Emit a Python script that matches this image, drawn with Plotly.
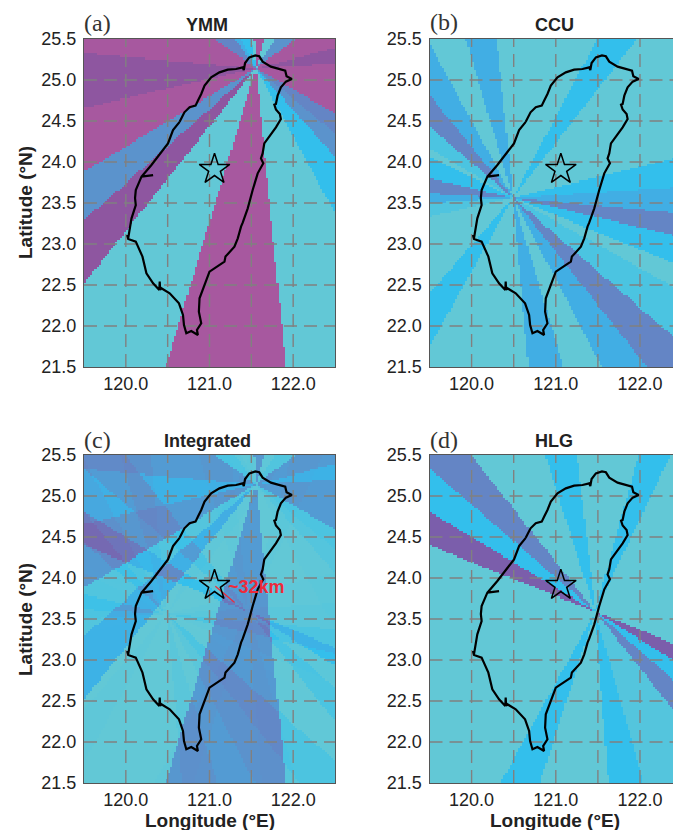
import numpy as np
import plotly.graph_objects as go

W, H = 673, 830

# Map extents and ticks
LON_TICKS = [120.0, 121.0, 122.0]
LON_TICK_TEXT = ["120.0", "121.0", "122.0"]
LAT_TICKS = [21.5, 22.0, 22.5, 23.0, 23.5, 24.0, 24.5, 25.0, 25.5]
LAT_TICK_TEXT = ["21.5", "22.0", "22.5", "23.0", "23.5", "24.0", "24.5", "25.0", "25.5"]
GRID_LON = [120.0, 120.5, 121.0, 121.5, 122.0]
GRID_LAT = [22.0, 22.5, 23.0, 23.5, 24.0, 24.5, 25.0]

# Taiwan coastline
COAST_LON = [120.643, 120.70, 120.762, 120.833, 120.861, 120.901, 120.941, 121.02, 121.119, 121.218,
             121.317, 121.397, 121.41, 121.425, 121.476, 121.548, 121.595, 121.635, 121.734, 121.833,
             121.905, 121.921, 121.984, 121.913, 121.853, 121.814, 121.794, 121.775, 121.794, 121.841,
             121.853, 121.794, 121.734, 121.655, 121.635, 121.615, 121.643, 121.576, 121.516, 121.457,
             121.397, 121.377, 121.338, 121.298, 121.191, 121.179, 121.0, 120.941, 120.881, 120.873,
             120.901, 120.85, 120.861, 120.782, 120.723, 120.695, 120.683, 120.635, 120.524, 120.425,
             120.41, 120.405, 120.40, 120.326, 120.246, 120.199, 120.119, 120.028, 120.016, 120.028,
             120.068, 120.119, 120.11, 120.119, 120.187, 120.326, 120.187, 120.306, 120.425, 120.504,
             120.564, 120.643]
COAST_LAT = [24.49, 24.606, 24.667, 24.687, 24.748, 24.829, 24.931, 25.033, 25.093, 25.126,
             25.134, 25.154, 25.12, 25.207, 25.276, 25.30, 25.289, 25.224, 25.163, 25.134,
             25.114, 25.045, 25.012, 24.98, 24.911, 24.809, 24.707, 24.70, 24.64, 24.585,
             24.524, 24.423, 24.341, 24.227, 24.105, 24.044, 23.984, 23.862, 23.658, 23.435,
             23.26, 23.211, 23.069, 22.968, 22.846, 22.785, 22.663, 22.5, 22.338, 22.175,
             22.033, 21.951, 21.89, 21.939, 21.911, 22.012, 22.134, 22.277, 22.399, 22.46,
             22.44, 22.541, 22.44, 22.52, 22.642, 22.846, 23.029, 23.061, 23.11, 23.069,
             23.313, 23.475, 23.56, 23.658, 23.821, 23.841, 23.821, 23.963, 24.126, 24.227,
             24.39, 24.49]

STAR_LON = [121.06]
STAR_LAT = [23.91]
ARROW_LON = [121.07, 121.30]
ARROW_LAT = [23.90, 23.70]
ARROW_LABEL = "~32km"

# Bands: apex, boundary rays (clockwise), and level of the band after each ray
YMM_APEX = (121.555, 25.145)
YMM_RAY_LON = [119.5, 119.5, 119.5, 119.5, 119.5, 121.06, 121.30, 121.38, 121.50, 121.536, 121.655,
               121.794, 122.03, 122.5, 122.5, 122.5, 122.5, 122.5, 122.5, 121.913, 120.476]
YMM_RAY_LAT = [22.52, 23.29, 23.88, 24.66, 25.326, 25.5, 25.5, 25.5, 25.5, 25.5, 25.5,
               25.5, 25.5, 25.386, 25.204, 24.594, 24.35, 24.065, 23.374, 21.5, 21.5]
YMM_LEVEL = [4.3, 2.0, 5.0, 4.3, 5.0, 2.5, 1.5, 1.0, 0.0, 5.0, 0.0,
             2.0, 5.0, 4.3, 5.0, 2.5, 2.0, 1.0, 0.0, 5.0, 0.0]

CCU_APEX = (120.49, 23.565)
CCU_RAY_LON = [120.673, 119.5, 119.5, 119.5, 119.5, 119.5, 119.5, 119.5, 119.5, 119.5, 119.5, 119.5,
               119.93, 120.298, 121.486, 121.96, 122.39, 122.39, 122.39, 122.39, 122.39, 122.39, 122.39,
               122.08, 121.545, 121.09]
CCU_RAY_LAT = [21.5, 21.75, 22.40, 23.33, 23.50, 23.62, 23.80, 24.065, 24.167, 24.43, 24.817, 25.448,
               25.5, 25.5, 25.5, 25.5, 24.04, 23.69, 23.38, 23.11, 22.765, 22.48, 21.87,
               21.5, 21.5, 21.5]
CCU_LEVEL = [0.0, 1.0, 0.0, 0.4, 1.5, 2.5, 1.0, 0.0, 0.5, 2.5, 1.5, 0.0,
             1.5, 0.0, 1.0, 0.0, 1.0, 1.5, 2.5, 1.0, 0.0, 0.5, 2.5,
             1.5, 0.0, 1.5]

HLG_APEX = (121.466, 23.59)
HLG_RAY_LON = [119.5, 119.5, 119.5, 119.99, 120.87, 121.25, 121.98, 122.36,
               122.39, 122.39, 122.39, 122.39, 122.04, 121.62, 120.81, 120.34]
HLG_RAY_LAT = [24.40, 24.81, 25.34, 25.5, 25.5, 25.5, 25.5, 25.5,
               23.2, 23.0, 22.76, 22.39, 21.5, 21.5, 21.5, 21.5]
HLG_LEVEL = [3.5, 1.0, 2.5, 0.0, 1.0, 0.0, 1.0, 0.0,
             3.5, 1.0, 2.5, 0.3, 1.0, 0.0, 1.0, 0.0]

COLORSCALE = [[0.0, "#62C8D6"], [0.2, "#33BFEC"], [0.3, "#41AEE4"], [0.4, "#5B93CC"],
              [0.5, "#6485C5"], [0.7, "#7B5EAB"], [0.86, "#8E56A0"], [1.0, "#A7589F"]]

# Raster grid of the model output
grid_lon = np.arange(119.5125, 122.5, 0.025)
grid_lat = np.arange(21.5125, 25.5, 0.025)
LON, LAT = np.meshgrid(grid_lon, grid_lat)


def band_field(apex, ray_lon, ray_lat, level):
    theta = np.degrees(np.arctan2(np.array(ray_lat) - apex[1], np.array(ray_lon) - apex[0]))
    t = np.degrees(np.arctan2(LAT - apex[1], LON - apex[0]))
    d = (theta[:, None, None] - t) % 360
    return np.array(level)[np.argmin(d, axis=0)]


z_ymm = band_field(YMM_APEX, YMM_RAY_LON, YMM_RAY_LAT, YMM_LEVEL)
z_ccu = band_field(CCU_APEX, CCU_RAY_LON, CCU_RAY_LAT, CCU_LEVEL)
z_hlg = band_field(HLG_APEX, HLG_RAY_LON, HLG_RAY_LAT, HLG_LEVEL)
# The integrated panel combines the three stations; strong bands dominate it
z_int = np.clip((z_ymm ** 2 + z_ccu ** 2 + z_hlg ** 2) / 5 / 2.7, 0, 5)

LEFT = (84 / W, 335 / W)
RIGHT = (429.5 / W, 1.0)
TOP = (1 - 367 / H, 1 - 39 / H)
BOT = (1 - 783 / H, 1 - 455 / H)
RANGE_L = [119.5, 122.5]
RANGE_R = [119.5, 122.392]

panels = [
    ("", z_ymm, LEFT, TOP, RANGE_L, True),
    ("2", z_ccu, RIGHT, TOP, RANGE_R, False),
    ("3", z_int, LEFT, BOT, RANGE_L, True),
    ("4", z_hlg, RIGHT, BOT, RANGE_R, False),
]

fig = go.Figure()
layout = {}
FONT = "Liberation Sans"
for suf, z, dx, dy, rng, closed in panels:
    xa, ya = "x" + suf, "y" + suf
    fig.add_trace(go.Heatmap(x=grid_lon, y=grid_lat, z=np.round(z, 2), colorscale=COLORSCALE,
                             zmin=0, zmax=5, showscale=False, hoverinfo="skip", xaxis=xa, yaxis=ya))
    for g in GRID_LON:
        fig.add_trace(go.Scatter(x=[g, g], y=[21.5, 25.5], mode="lines", xaxis=xa, yaxis=ya,
                                 line=dict(color="#808080", width=1.4, dash="13px,7px"),
                                 hoverinfo="skip", showlegend=False))
    for g in GRID_LAT:
        fig.add_trace(go.Scatter(x=[119.5, 122.5], y=[g, g], mode="lines", xaxis=xa, yaxis=ya,
                                 line=dict(color="#808080", width=1.4, dash="13px,7px"),
                                 hoverinfo="skip", showlegend=False))
    fig.add_trace(go.Scatter(x=COAST_LON, y=COAST_LAT, mode="lines", xaxis=xa, yaxis=ya,
                             line=dict(color="#000000", width=2.2), hoverinfo="skip", showlegend=False))
    if suf == "3":
        fig.add_trace(go.Scatter(x=ARROW_LON, y=ARROW_LAT, mode="lines", xaxis=xa, yaxis=ya,
                                 line=dict(color="#EE2A3A", width=1.3), hoverinfo="skip", showlegend=False))
    fig.add_trace(go.Scatter(x=STAR_LON, y=STAR_LAT, mode="markers", xaxis=xa, yaxis=ya,
                             marker=dict(symbol="star-open", size=23, color="#000000",
                                         line=dict(color="#000000", width=1.5)),
                             hoverinfo="skip", showlegend=False))
    common = dict(showgrid=False, zeroline=False, showline=True, linecolor="#555555", linewidth=1,
                  ticks="outside", tickcolor="rgba(0,0,0,0)",
                  tickfont=dict(family=FONT, size=18, color="#222222"))
    layout["xaxis" + suf] = dict(domain=list(dx), range=rng, anchor=ya, tickvals=LON_TICKS, ticklen=0,
                                 ticktext=LON_TICK_TEXT, mirror=True, **common)
    layout["yaxis" + suf] = dict(domain=list(dy), range=[21.5, 25.5], anchor=xa, tickvals=LAT_TICKS, ticklen=3,
                                 ticktext=LAT_TICK_TEXT, mirror=closed, **common)


def note(text, px, py, size, family=FONT, bold=False, color="#222222", xanchor="center", angle=0):
    return dict(text=f"<b>{text}</b>" if bold else text, xref="paper", yref="paper", x=px / W, y=1 - py / H,
                showarrow=False, xanchor=xanchor, yanchor="middle", textangle=angle,
                font=dict(family=family, size=size, color=color))


SERIF = "Liberation Serif"
annotations = [
    note("YMM", 207, 25, 18, bold=True),
    note("CCU", 554, 25, 18, bold=True),
    note("Integrated", 207, 441, 18, bold=True),
    note("HLG", 554, 441, 18, bold=True),
    note("(a)", 82, 23, 24, family=SERIF, xanchor="left", color="#333333"),
    note("(b)", 428, 22, 24, family=SERIF, xanchor="left", color="#333333"),
    note("(c)", 82, 440, 24, family=SERIF, xanchor="left", color="#333333"),
    note("(d)", 428, 440, 24, family=SERIF, xanchor="left", color="#333333"),
    note("Latitude (°N)", 25, 203, 19, bold=True, angle=-90),
    note("Latitude (°N)", 25, 620, 19, bold=True, angle=-90),
    note("Longitude (°E)", 210, 820, 19, bold=True),
    note("Longitude (°E)", 555, 820, 19, bold=True),
    note(ARROW_LABEL, 226, 587, 18, bold=True, color="#EE2A3A", xanchor="left"),
]

fig.update_layout(width=W, height=H, margin=dict(l=0, r=0, t=0, b=0, autoexpand=False), paper_bgcolor="#FFFFFF",
                  plot_bgcolor="#62C8D6", showlegend=False, annotations=annotations, **layout)
fig.write_html("out.html", config={"displayModeBar": False},
               post_script="document.body.style.margin='0';document.documentElement.style.overflow='hidden';")
